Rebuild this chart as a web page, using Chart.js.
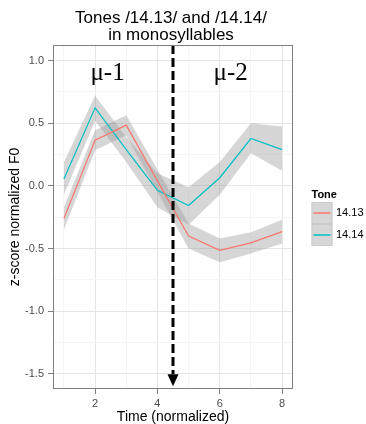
<!DOCTYPE html>
<html>
<head>
<meta charset="utf-8">
<script src="https://cdn.jsdelivr.net/npm/chart.js@4/dist/chart.umd.min.js"></script>
<style>
  html, body { margin: 0; padding: 0; background: #fff; }
  #wrap { width: 366px; height: 424px; }
</style>
</head>
<body>
<div id="wrap"><canvas id="tone-chart" width="366" height="424"></canvas></div>
<script>
// time steps (normalized)
const timePoints = [1, 2, 3, 4, 5, 6, 7, 8];

// tone 14.13: mean z-score F0 and its confidence band
const tone1413 = [-0.26, 0.365, 0.485, 0.04, -0.40, -0.515, -0.455, -0.365];
const tone1413Upper = [-0.17, 0.445, 0.565, 0.13, -0.30, -0.42, -0.37, -0.27];
const tone1413Lower = [-0.35, 0.285, 0.405, -0.05, -0.50, -0.61, -0.54, -0.46];

// tone 14.14
const tone1414 = [0.055, 0.623, 0.29, -0.035, -0.157, 0.065, 0.378, 0.29];
const tone1414Upper = [0.19, 0.72, 0.39, 0.10, -0.01, 0.19, 0.50, 0.475];
const tone1414Lower = [-0.07, 0.52, 0.19, -0.17, -0.31, -0.07, 0.26, 0.12];

const toneNames = ['14.13', '14.14'];
const toneColors = ['#F8766D', '#00BFC4'];

const xTicks = [1, 2, 3, 4, 5, 6, 7, 8];
const yTicks = [-1.5, -1.25, -1.0, -0.75, -0.5, -0.25, 0, 0.25, 0.5, 0.75, 1.0];

// boundary between the two morae
const boundaryX = 4.5;
const boundaryEnd = -1.6;

const moraLabels = [
    { text: 'μ-1', x: 2.4, y: 0.9 },
    { text: 'μ-2', x: 6.35, y: 0.9 },
];

const BAND = 'rgba(153,153,153,0.4)';
const SANS = '"Liberation Sans", Arial, sans-serif';

const pts = (ys) => ys.map((y, i) => ({ x: timePoints[i], y }));

function band(lower, upper) {
    return [{
        data: pts(lower), borderWidth: 0, pointRadius: 0, fill: false, order: 2,
    }, {
        data: pts(upper), borderWidth: 0, pointRadius: 0, fill: '-1', backgroundColor: BAND, order: 2,
    }];
}

function line(values, color) {
    return {
        data: pts(values), borderColor: color, borderWidth: 1.2, pointRadius: 0, fill: false, order: 0,
    };
}

const isMajorX = (v) => v % 2 === 0;
const isMajorY = (v) => Math.abs(v * 2 - Math.round(v * 2)) < 1e-6;

const decor = {
    id: 'decor',
    afterDatasetsDraw(chart) {
        const { ctx, chartArea: a, scales: { x, y } } = chart;

        // dashed arrow at the mora boundary
        const ax = x.getPixelForValue(boundaryX);
        const tip = y.getPixelForValue(boundaryEnd);
        const headLen = 12, headW = 5.5;
        ctx.save();
        ctx.beginPath();
        ctx.rect(a.left, a.top, a.right - a.left, a.bottom - a.top);
        ctx.clip();
        ctx.strokeStyle = '#000';
        ctx.lineWidth = 3;
        ctx.setLineDash([9, 4]);
        ctx.beginPath();
        ctx.moveTo(ax, a.top);
        ctx.lineTo(ax, tip - headLen);
        ctx.stroke();
        ctx.setLineDash([]);
        ctx.fillStyle = '#000';
        ctx.beginPath();
        ctx.moveTo(ax - headW, tip - headLen);
        ctx.lineTo(ax + headW, tip - headLen);
        ctx.lineTo(ax, tip);
        ctx.closePath();
        ctx.fill();
        ctx.restore();

        // mora labels
        ctx.save();
        ctx.fillStyle = '#000';
        ctx.font = '25px "Liberation Serif", "Times New Roman", serif';
        ctx.textAlign = 'center';
        ctx.textBaseline = 'middle';
        moraLabels.forEach((m) => {
            ctx.fillText(m.text, x.getPixelForValue(m.x), y.getPixelForValue(m.y));
        });
        ctx.restore();

        // panel border
        ctx.save();
        ctx.strokeStyle = '#7f7f7f';
        ctx.lineWidth = 1;
        ctx.strokeRect(a.left + 0.5, a.top + 0.5, a.right - a.left - 1, a.bottom - a.top - 1);
        ctx.restore();
    },
    afterDraw(chart) {
        const { ctx, chartArea: a } = chart;
        const cx = (a.left + a.right) / 2 - 2;

        // title
        ctx.save();
        ctx.fillStyle = '#000';
        ctx.font = '17px ' + SANS;
        ctx.textAlign = 'center';
        ctx.textBaseline = 'alphabetic';
        ctx.fillText('Tones /14.13/ and /14.14/', cx, 23);
        ctx.fillText('in monosyllables', cx, 40);
        ctx.restore();

        // legend
        const lx = 311.5, ly = 202;
        const keyW = 21, keyH = 22;
        ctx.save();
        ctx.fillStyle = '#000';
        ctx.font = 'bold 11px ' + SANS;
        ctx.textBaseline = 'alphabetic';
        ctx.fillText('Tone', lx, 198);
        ctx.font = '11px ' + SANS;
        ctx.textBaseline = 'middle';
        toneNames.forEach((name, i) => {
            const top = ly + i * keyH;
            ctx.fillStyle = '#fff';
            ctx.fillRect(lx, top, keyW, keyH);
            ctx.fillStyle = BAND;
            ctx.fillRect(lx, top, keyW, keyH);
            ctx.strokeStyle = '#cccccc';
            ctx.lineWidth = 1;
            ctx.strokeRect(lx + 0.5, top + 0.5, keyW - 1, keyH - 1);
            ctx.strokeStyle = toneColors[i];
            ctx.lineWidth = 1.5;
            ctx.beginPath();
            ctx.moveTo(lx + 2, top + keyH / 2);
            ctx.lineTo(lx + keyW - 2, top + keyH / 2);
            ctx.stroke();
            ctx.fillStyle = '#000';
            ctx.fillText(name, lx + keyW + 3.5, top + keyH / 2);
        });
        ctx.restore();
    },
};

new Chart(document.getElementById('tone-chart'), {
    type: 'line',
    data: {
        datasets: [
            ...band(tone1413Lower, tone1413Upper),
            ...band(tone1414Lower, tone1414Upper),
            line(tone1413, toneColors[0]),
            line(tone1414, toneColors[1]),
        ],
    },
    options: {
        responsive: false,
        animation: false,
        layout: { padding: { top: 45, right: 73, bottom: 0, left: 0 } },
        plugins: {
            legend: { display: false },
            tooltip: { enabled: false },
            title: { display: false },
        },
        scales: {
            x: {
                type: 'linear',
                min: 0.65,
                max: 8.35,
                afterBuildTicks: (s) => { s.ticks = xTicks.map((v) => ({ value: v })); },
                afterFit: (s) => { s.height = 35; },
                border: { display: false },
                grid: {
                    color: (c) => (isMajorX(c.tick.value) ? '#e5e5e5' : '#f5f5f5'),
                    tickColor: (c) => (isMajorX(c.tick.value) ? '#7f7f7f' : 'transparent'),
                    tickLength: 5,
                },
                ticks: {
                    autoSkip: false,
                    maxRotation: 0,
                    padding: 3,
                    color: '#4d4d4d',
                    font: { family: SANS, size: 11 },
                    callback: (v) => (isMajorX(v) ? String(v) : ''),
                },
                title: {
                    display: true,
                    text: 'Time (normalized)',
                    color: '#000',
                    font: { family: SANS, size: 14, lineHeight: 1 },
                    padding: { top: 0, bottom: 0 },
                },
            },
            y: {
                min: -1.622,
                max: 1.125,
                afterBuildTicks: (s) => { s.ticks = yTicks.map((v) => ({ value: v })); },
                afterFit: (s) => { s.width = 53; },
                border: { display: false },
                grid: {
                    color: (c) => (isMajorY(c.tick.value) ? '#e5e5e5' : '#f5f5f5'),
                    tickColor: (c) => (isMajorY(c.tick.value) ? '#7f7f7f' : 'transparent'),
                    tickLength: 5,
                },
                ticks: {
                    autoSkip: false,
                    padding: 4,
                    color: '#4d4d4d',
                    font: { family: SANS, size: 11 },
                    callback: (v) => (isMajorY(v) ? v.toFixed(1) : ''),
                },
                title: {
                    display: true,
                    text: 'z-score normalized F0',
                    color: '#000',
                    font: { family: SANS, size: 14 },
                    padding: { top: 7, bottom: 0 },
                },
            },
        },
    },
    plugins: [decor],
});
</script>
</body>
</html>
